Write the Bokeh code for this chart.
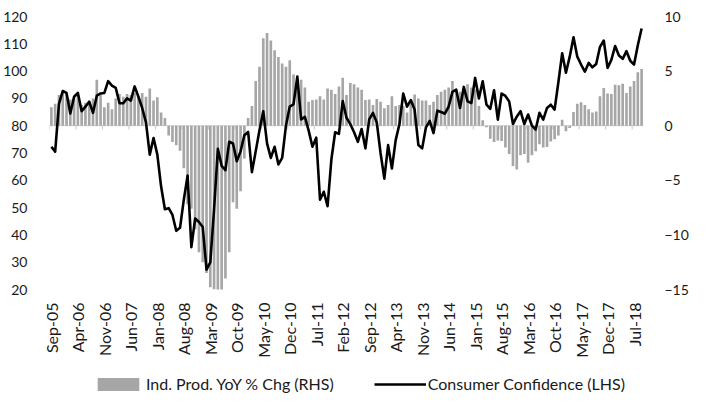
import numpy as np
from bokeh.plotting import figure
from bokeh.layouts import column
from bokeh.models import Range1d, LinearAxis, FixedTicker, Legend, LegendItem
from bokeh.embed import file_html
from bokeh.resources import INLINE

# ---- data (monthly, Sep-05 .. Sep-18) ----
tick_labels = ["Sep-05", "Apr-06", "Nov-06", "Jun-07", "Jan-08", "Aug-08", "Mar-09",
               "Oct-09", "May-10", "Dec-10", "Jul-11", "Feb-12", "Sep-12", "Apr-13",
               "Nov-13", "Jun-14", "Jan-15", "Aug-15", "Mar-16", "Oct-16", "May-17",
               "Dec-17", "Jul-18"]

consumer_conf = [
    72.3, 70.5, 88.0, 92.7, 92.0, 84.5, 90.6, 92.0, 85.3, 87.0, 88.8, 84.7,
    91.0, 91.8, 92.0, 96.3, 94.7, 93.9, 88.2, 88.2, 90.0, 89.2, 94.4, 90.6,
    86.5, 81.2, 69.4, 75.5, 69.4, 57.7, 49.4, 49.8, 47.3, 41.5, 42.6, 52.9,
    61.7, 35.5, 46.0, 44.7, 42.9, 27.3, 29.9, 49.4, 71.5, 65.3, 63.7, 74.1,
    73.5, 67.0, 70.6, 76.5, 77.7, 63.0, 70.6, 78.3, 85.3, 73.5, 68.2, 72.3,
    65.8, 68.2, 80.0, 87.0, 87.8, 98.0, 82.3, 83.2, 78.2, 72.3, 75.6, 52.9,
    55.8, 50.5, 67.6, 77.6, 77.0, 89.0, 82.9, 80.6, 77.6, 74.1, 78.8, 71.7,
    82.3, 84.7, 81.2, 70.0, 60.6, 72.9, 64.3, 74.7, 80.6, 91.8, 87.0, 89.4,
    85.9, 72.9, 71.7, 79.4, 81.8, 77.3, 85.5, 85.0, 84.4, 87.0, 92.4, 93.2,
    86.5, 94.2, 88.9, 88.3, 97.5, 90.0, 96.3, 87.7, 86.2, 93.0, 82.2, 91.8,
    90.9, 88.9, 80.6, 83.3, 85.3, 80.6, 84.1, 80.0, 78.6, 84.7, 82.2, 86.5,
    87.7, 85.9, 95.9, 106.5, 99.4, 105.3, 112.4, 105.3, 102.4, 99.8, 103.0, 101.4,
    102.6, 108.9, 111.2, 101.2, 104.1, 109.2, 105.7, 104.5, 107.3, 103.8, 102.4, 109.5,
    115.6,
]

ind_prod_yoy = [
    1.7, 2.0, 2.8, 3.0, 2.9, 2.4, 2.5, 2.8, 1.9, 2.1, 2.2, 2.5,
    4.2, 2.8, 1.7, 2.1, 1.5, 2.5, 2.9, 2.65, 2.9, 2.8, 3.0, 2.65,
    3.0, 2.65, 3.4, 2.3, 2.6, 1.2, 0.7, -0.9, -1.5, -1.8, -2.3, -3.9,
    -7.2, -7.6, -9.5, -11.6, -12.5, -13.5, -14.8, -15.0, -15.2, -15.1, -14.0, -11.6,
    -7.0, -7.6, -6.0, -3.0, 0.7, 1.8, 4.1, 5.4, 8.0, 8.5, 7.8, 6.9,
    6.3, 5.7, 5.4, 6.0, 4.7, 4.4, 4.2, 3.5, 2.2, 2.35, 2.4, 2.7,
    2.4, 3.4, 3.3, 2.9, 3.6, 4.4, 2.8, 3.9, 3.8, 3.5, 3.3, 2.35,
    2.4, 1.9, 2.45, 2.2, 1.6, 1.9, 2.7, 1.8, 1.9, 1.8, 1.2, 2.3,
    2.85, 2.5, 2.3, 2.3, 1.9, 2.2, 2.8, 3.1, 3.3, 3.5, 4.1, 3.3,
    3.1, 3.4, 3.8, 3.5, 3.3, 1.8, 0.5, -0.15, -1.2, -1.5, -1.35, -1.4,
    -2.0, -2.6, -3.7, -4.0, -2.7, -2.6, -3.4, -2.7, -2.35, -1.7, -2.0, -1.95,
    -1.45, -1.25, -0.9, 0.55, -0.5, -0.2, 1.25, 2.0, 2.15, 1.9, 1.5, 1.2,
    1.3, 2.7, 3.45, 2.95, 2.9, 3.75, 3.7, 3.85, 3.0, 3.6, 4.1, 4.9,
    5.2,
]

series_names = ["Ind. Prod. YoY % Chg (RHS)", "Consumer Confidence (LHS)"]

assert len(consumer_conf) == len(ind_prod_yoy)
n = len(consumer_conf)
month_idx = list(range(n))
tick_step = 7
tick_idx = [i * tick_step for i in range(len(tick_labels))]

FONT = "Lato"
TXT = "#1a1a1a"
BAR = "#a6a6a6"

p = figure(width=691, height=360, output_backend="svg", toolbar_location=None,
           x_range=Range1d(-0.5, n - 0.5), y_range=Range1d(20, 120),
           min_border_left=45, min_border_right=35, min_border_top=16,
           min_border_bottom=60)
p.outline_line_color = None
p.grid.visible = False
p.background_fill_color = "white"
p.border_fill_color = "white"
p.extra_y_ranges = {"rhs": Range1d(-15, 10)}

# zero line (axis crossing) with small tick marks
p.line(x=[-0.5, n - 0.5], y=[80, 80], line_color="#d0d0d0", line_width=1)
p.segment(x0=[t - 0.5 for t in tick_idx], x1=[t - 0.5 for t in tick_idx],
          y0=[80] * len(tick_idx), y1=[78.6] * len(tick_idx),
          line_color="#c8c8c8", line_width=1)

bars = p.vbar(x=month_idx, top=ind_prod_yoy, bottom=0, width=0.7,
              y_range_name="rhs", fill_color=BAR, line_color=None)
cc = p.line(x=month_idx, y=consumer_conf, line_color="black", line_width=2.6,
            line_join="round")

# left axis
ya = p.yaxis[0]
ya.ticker = FixedTicker(ticks=list(range(20, 121, 10)))
ya.axis_line_color = None
ya.major_tick_line_color = None
ya.minor_tick_line_color = None
ya.major_label_standoff = 16
ya.major_label_text_font = FONT
ya.major_label_text_font_size = "14px"
ya.major_label_text_color = TXT

# right axis
ra = LinearAxis(y_range_name="rhs", ticker=FixedTicker(ticks=[-15, -10, -5, 0, 5, 10]))
ra.axis_line_color = None
ra.major_tick_line_color = None
ra.minor_tick_line_color = None
ra.major_label_standoff = 15
ra.major_label_text_font = FONT
ra.major_label_text_font_size = "14px"
ra.major_label_text_color = TXT
p.add_layout(ra, "right")

# bottom axis
xa = p.xaxis[0]
xa.ticker = FixedTicker(ticks=tick_idx)
xa.major_label_overrides = {t: lbl for t, lbl in zip(tick_idx, tick_labels)}
xa.major_label_orientation = np.pi / 2
xa.axis_line_color = None
xa.major_tick_line_color = None
xa.minor_tick_line_color = None
xa.major_label_standoff = 7
xa.major_label_text_font = FONT
xa.major_label_text_font_size = "16px"
xa.major_label_text_color = TXT

# ---- legend strip below the chart (proxies kept out of view) ----
pl = figure(width=691, height=33, output_backend="svg", toolbar_location=None,
            x_range=Range1d(-20, -19), y_range=Range1d(500, 501),
            x_axis_type=None, y_axis_type=None, min_border=0)
pl.outline_line_color = None
pl.grid.visible = False
pl.background_fill_color = "white"
pl.border_fill_color = "white"
lg_bar = pl.vbar(x=month_idx, top=ind_prod_yoy, width=0.7, fill_color=BAR, line_color=None)
lg_line = pl.line(x=month_idx, y=consumer_conf, line_color="black", line_width=2.6)

legend = Legend(items=[LegendItem(label=series_names[0], renderers=[lg_bar]),
                       LegendItem(label=series_names[1], renderers=[lg_line])],
                orientation="horizontal", location=(43, 0))
legend.border_line_color = None
legend.background_fill_alpha = 0
legend.padding = 0
legend.margin = 0
legend.spacing = 40
legend.glyph_width = 52
legend.glyph_height = 16
legend.label_height = 16
legend.label_standoff = 2
legend.label_text_font = FONT
legend.label_text_font_size = "16px"
legend.label_text_color = TXT
pl.add_layout(legend, "center")

layout = column(p, pl, spacing=0)
open("out.html", "w").write(file_html(layout, INLINE))
